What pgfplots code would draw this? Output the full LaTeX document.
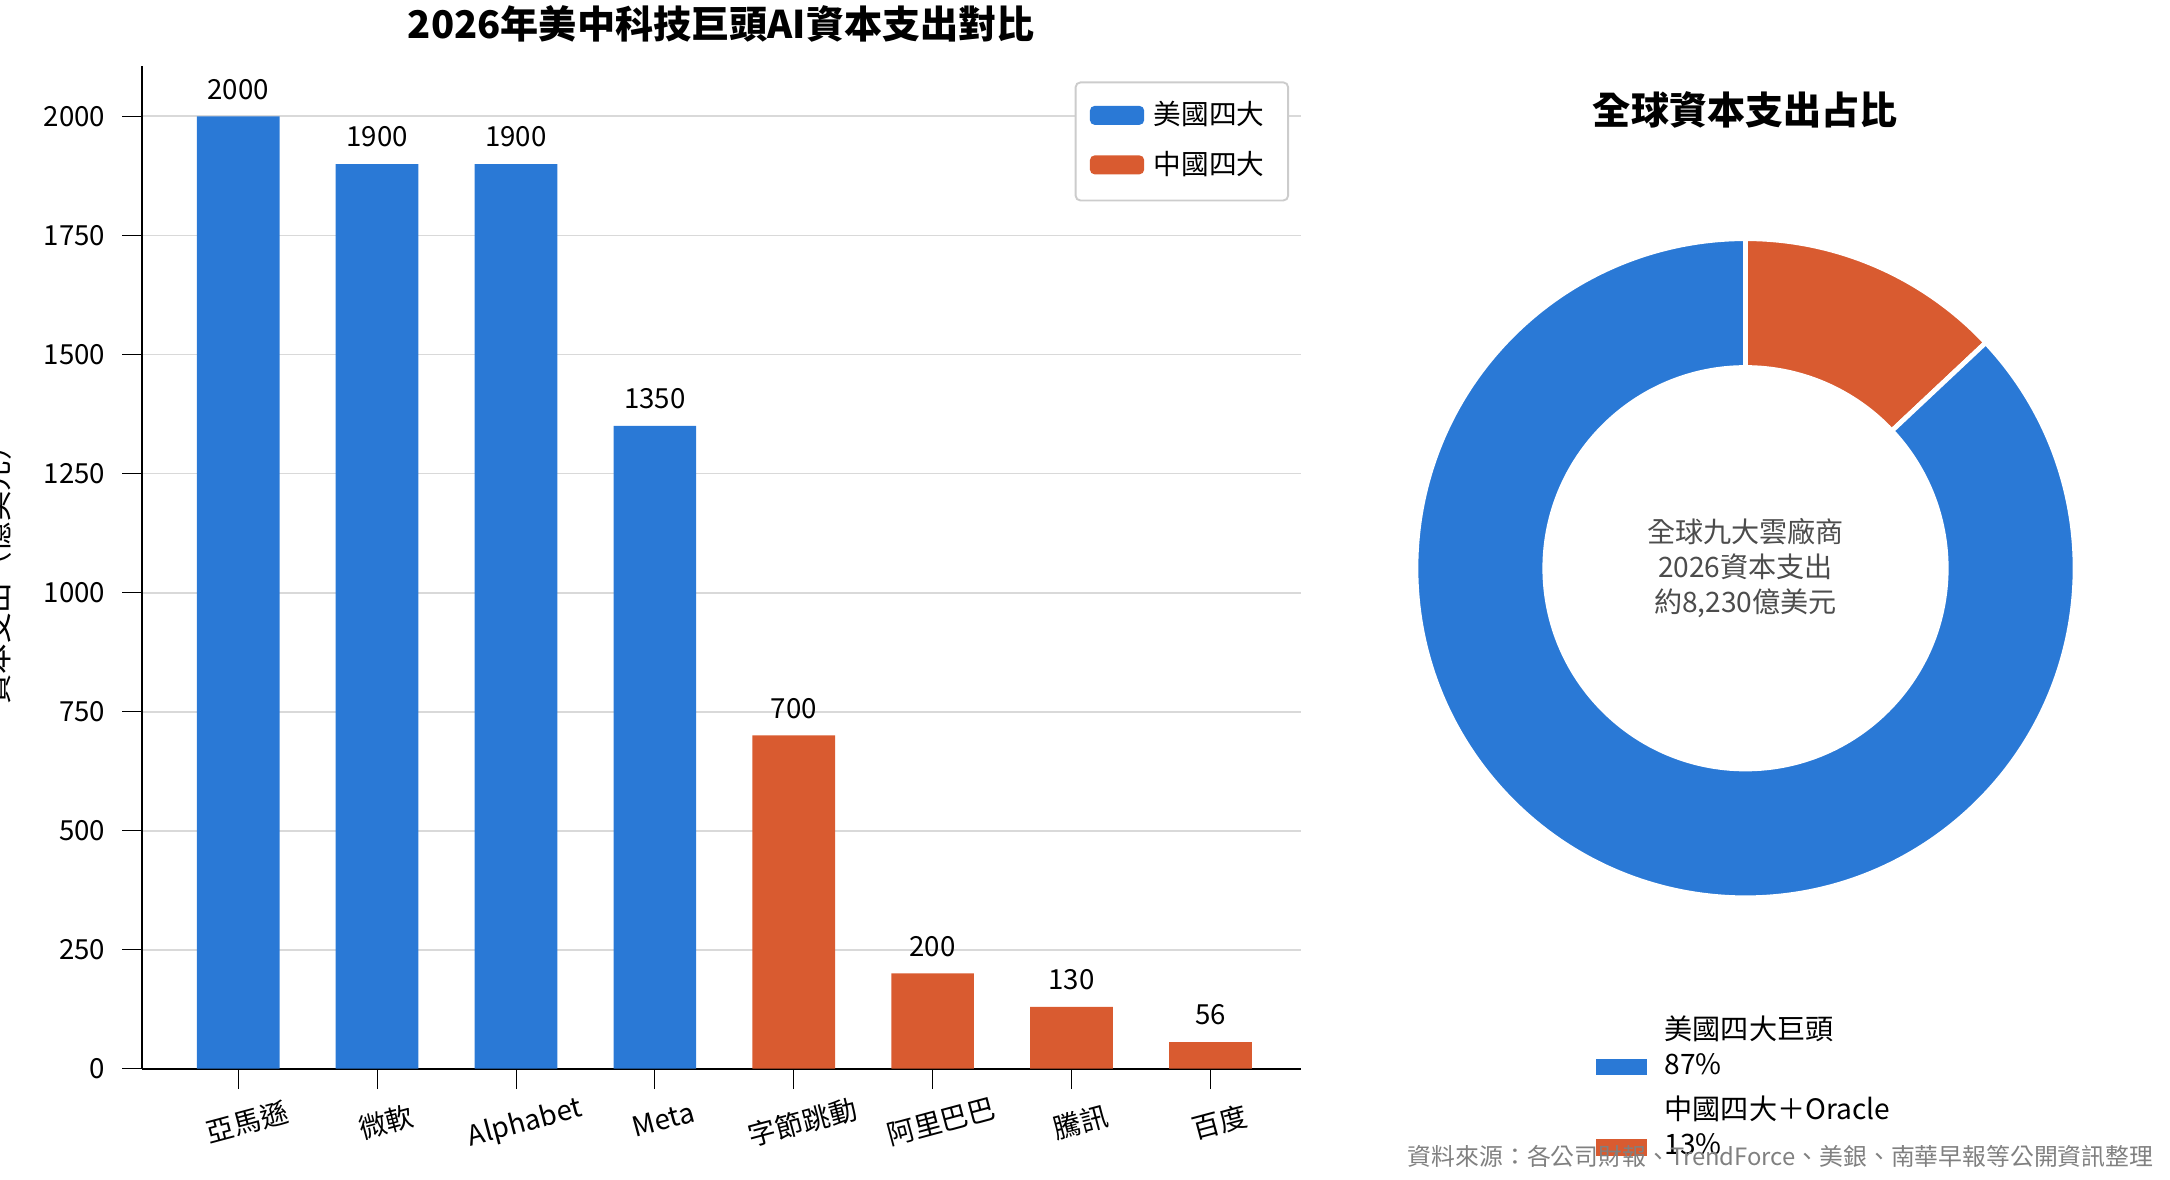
\documentclass[border=0pt]{standalone}
\usepackage{pgfplots}
\pgfplotsset{compat=1.18}
\usepackage{fontspec}
\setmainfont{Noto Sans CJK TC}
\definecolor{usb}{HTML}{2A79D6}
\definecolor{cno}{HTML}{D95B30}
\begin{document}
\begin{tikzpicture}[font=\fontsize{5.8}{7}\selectfont]
\path[use as bounding box] (-1.05,-0.82) rectangle (14.95,7.88);
\begin{axis}[at={(0,0)},anchor=south west,scale only axis,width=8.54cm,height=7.39cm,
  xmin=-0.69,xmax=7.65,ymin=0,ymax=2105,
  xtick={0,...,7},xticklabels={亞馬遜,微軟,Alphabet,Meta,字節跳動,阿里巴巴,騰訊,百度},
  xticklabel style={rotate=15,anchor=north,yshift=-1pt},
  ytick={0,250,...,2000},ymajorgrids,grid style={gray!30},
  axis x line*=bottom,axis y line*=left,
  /pgf/number format/assume math mode=true,
  scaled y ticks=false,yticklabel style={/pgf/number format/1000 sep={}},
  ylabel={資本支出（億美元）},ylabel style={font=\fontsize{6.4}{7.5}\selectfont},
  tick align=outside,tick style={black},
  ybar,bar width=0.61cm,bar shift=0pt,
  nodes near coords,nodes near coords style={font=\fontsize{5.8}{7}\selectfont,/pgf/number format/1000 sep={}},
  legend style={at={(0.99,0.985)},anchor=north east,draw=gray!40,rounded corners=1pt,font=\fontsize{5.8}{7}\selectfont},
  legend image code/.code={\fill[#1] (0cm,-0.06cm) rectangle (0.4cm,0.08cm);}]
\addplot[fill=usb,draw=none] coordinates {(0,2000)(1,1900)(2,1900)(3,1350)};
\addplot[fill=cno,draw=none] coordinates {(4,700)(5,200)(6,130)(7,56)};
\legend{美國四大,中國四大}
\end{axis}
\node[font=\fontsize{8}{9.5}\selectfont\bfseries] at (4.27,7.70) {2026年美中科技巨頭AI資本支出對比};
\node[font=\fontsize{8}{9.5}\selectfont\bfseries] at (11.82,7.07) {全球資本支出占比};
\def\cn{13}
\pgfmathsetmacro{\a}{90-3.6*\cn}
\begin{scope}[shift={(11.82,3.69)}]
\fill[cno,draw=white,line width=1pt] (90:2.43) arc (90:\a:2.43) -- (\a:1.48) arc (\a:90:1.48) -- cycle;
\fill[usb,draw=white,line width=1pt] (\a:2.43) arc (\a:-270:2.43) -- (90:1.48) arc (-270:\a:1.48) -- cycle;
\node[align=center,text=black!70,font=\fontsize{5.9}{7.3}\selectfont] at (0,-0.0) {全球九大雲廠商\\2026資本支出\\約8,230億美元};
\end{scope}
\fill[usb] (10.72,-0.05) rectangle (11.09,0.07);
\fill[cno] (10.72,-0.64) rectangle (11.09,-0.52);
\node[anchor=west,align=left,font=\fontsize{5.9}{7.3}\selectfont] at (11.1,0.17) {美國四大巨頭\\87\%};
\node[anchor=west,align=left,font=\fontsize{5.9}{7.3}\selectfont] at (11.1,-0.42) {中國四大＋Oracle\\13\%};
\node[anchor=east,text=gray,font=\fontsize{5}{6}\selectfont] at (14.95,-0.65) {資料來源：各公司財報、TrendForce、美銀、南華早報等公開資訊整理};
\end{tikzpicture}
\end{document}
